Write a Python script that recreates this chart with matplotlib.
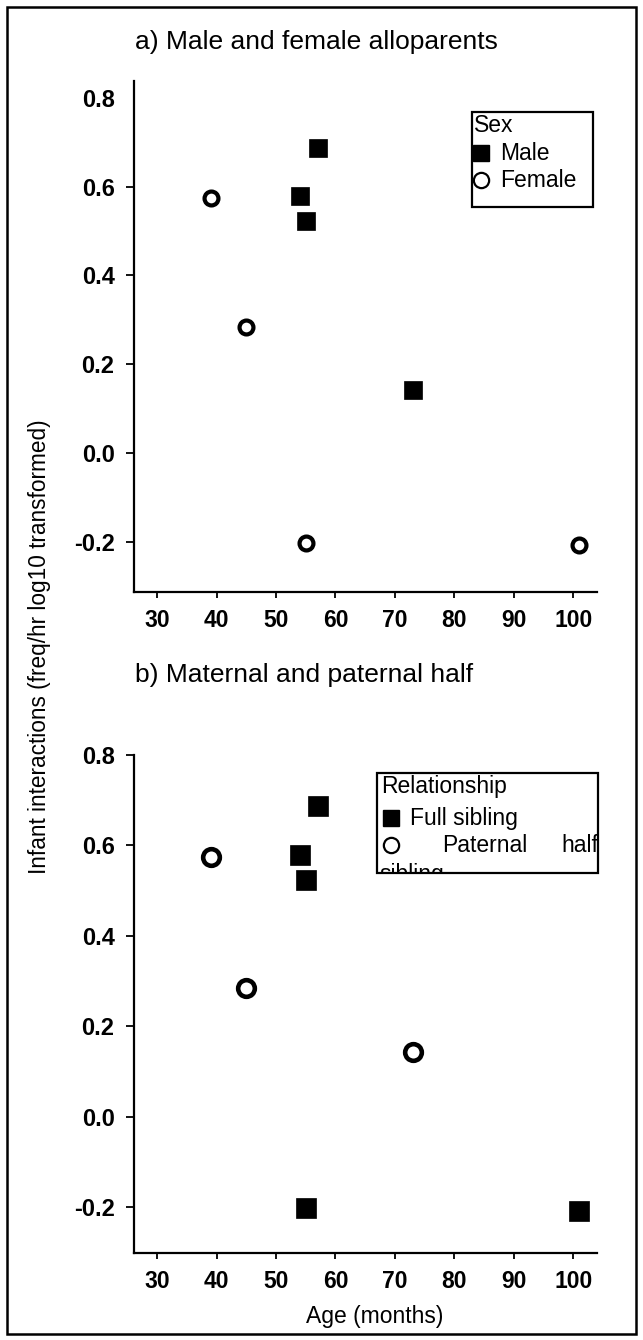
import numpy as np
import matplotlib
matplotlib.use("Agg")
import matplotlib.pyplot as plt
from matplotlib.patches import Rectangle
from matplotlib.transforms import Bbox, TransformedBbox

plt.rcParams['font.family'] = ['Liberation Sans', 'DejaVu Sans']

# alloparent data: age in months vs infant interactions (log10 freq/hr)
age = [39, 45, 54, 55, 57, 73, 55, 101]
interactions = [0.575, 0.285, 0.578, 0.523, 0.687, 0.142, -0.203, -0.208]
sex = ['Female', 'Female', 'Male', 'Male', 'Male', 'Male', 'Female', 'Female']
relationship = ['Paternal half sibling', 'Paternal half sibling', 'Full sibling',
                'Full sibling', 'Full sibling', 'Paternal half sibling',
                'Full sibling', 'Full sibling']
xticks = [30, 40, 50, 60, 70, 80, 90, 100]
yticks = [-0.2, 0.0, 0.2, 0.4, 0.6, 0.8]

W, H = 643, 1340
FS = 16.5

def px_rect(x0, y0, x1, y1):
  # pixel box (top-left origin) -> figure fraction [l, b, w, h]
  return [x0 / W, 1 - y1 / H, (x1 - x0) / W, (y1 - y0) / H]

def style_axes(ax, ylim):
  ax.set_xlim(26.1, 104.0)
  ax.set_ylim(*ylim)
  ax.spines['top'].set_visible(False)
  ax.spines['right'].set_visible(False)
  ax.spines['left'].set_linewidth(1.6)
  ax.spines['bottom'].set_linewidth(1.6)
  ax.set_xticks(xticks)
  ax.set_yticks(yticks)
  ax.set_yticklabels([f"{v:.1f}" for v in yticks])
  ax.tick_params(axis='x', direction='out', length=4.5, width=1.3, pad=8, labelsize=FS)
  ax.tick_params(axis='y', direction='out', length=6, width=1.3, pad=8, labelsize=17)
  for lab in ax.get_xticklabels() + ax.get_yticklabels():
    lab.set_fontweight('bold')

def draw_points(ax, groups, filled_key, ms_sq, ms_ci, mew_ci):
  a = np.array(age)
  v = np.array(interactions)
  g = np.array(groups)
  sq = g == filled_key
  ax.plot(a[sq], v[sq], 's', color='black', ms=ms_sq, mec='black', mew=0.5,
          linestyle='none', clip_on=False)
  ax.plot(a[~sq], v[~sq], 'o', color='black', mfc='white', ms=ms_ci, mew=mew_ci,
          linestyle='none', clip_on=False)

def legend_marker(ax, x, y, filled):
  if filled:
    ax.plot([x], [y], 's', color='black', ms=12, transform=ax.transAxes, clip_on=False)
  else:
    ax.plot([x], [y], 'o', mfc='white', mec='black', ms=11, mew=1.6,
            transform=ax.transAxes, clip_on=False)

fig = plt.figure(figsize=(W / 100, H / 100), dpi=100)

# outer frame
fig.patches.append(Rectangle((7 / W, 6 / H), 629 / W, 1327 / H, transform=fig.transFigure,
                             fill=False, lw=1.8, ec='black'))

# --- a) sex ---
ax1 = fig.add_axes(px_rect(134, 81, 597, 592))
style_axes(ax1, (-0.313, 0.838))
ax1.yaxis.get_major_ticks()[-1].tick1line.set_visible(False)
draw_points(ax1, sex, 'Male', 12.5, 10, 3.0)
fig.text(135 / W, 1 - 42 / H, "a) Male and female alloparents", fontsize=19, va='center')

ax1.add_patch(Rectangle((0.730, 0.753), 0.261, 0.186, transform=ax1.transAxes,
                        fill=False, lw=1.6, ec='black', clip_on=False))
ax1.text(0.734, 0.912, "Sex", transform=ax1.transAxes, fontsize=FS, va='center')
legend_marker(ax1, 0.750, 0.859, True)
ax1.text(0.790, 0.859, "Male", transform=ax1.transAxes, fontsize=FS, va='center')
legend_marker(ax1, 0.750, 0.806, False)
ax1.text(0.790, 0.806, "Female", transform=ax1.transAxes, fontsize=FS, va='center')

# --- b) relationship ---
ax2 = fig.add_axes(px_rect(134, 755, 597, 1253))
style_axes(ax2, (-0.302, 0.8))
draw_points(ax2, relationship, 'Full sibling', 14.5, 12, 3.3)
fig.text(135 / W, 1 - 675 / H, "b) Maternal and paternal half", fontsize=19, va='center')
ax2.set_xlabel("Age (months)", fontsize=16.5)
ax2.xaxis.set_label_coords(0.52, -0.104)

# legend box b): justified text, last line cut off by the frame
box = (0.525, 0.763, 0.477, 0.201)
ax2.add_patch(Rectangle(box[:2], box[2], box[3], transform=ax2.transAxes,
                        fill=False, lw=1.6, ec='black', clip_on=False, zorder=5))
clip_bb = TransformedBbox(Bbox.from_bounds(*box), ax2.transAxes)
rows = [(0.533, 0.936, "Relationship"), (0.596, 0.873, "Full sibling"),
        (0.665, 0.819, "Paternal"), (0.924, 0.819, "half"), (0.531, 0.761, "sibling")]
for xx, yy, s in rows:
  t = ax2.text(xx, yy, s, transform=ax2.transAxes, fontsize=FS, va='center',
               clip_on=True)
  t.set_clip_box(clip_bb)
legend_marker(ax2, 0.555, 0.873, True)
legend_marker(ax2, 0.555, 0.819, False)

fig.text(40 / W, 1 - 647 / H, "Infant interactions (freq/hr log10 transformed)",
         rotation=90, fontsize=16.3, va='center', ha='center')

fig.savefig("out.png", dpi=100)
